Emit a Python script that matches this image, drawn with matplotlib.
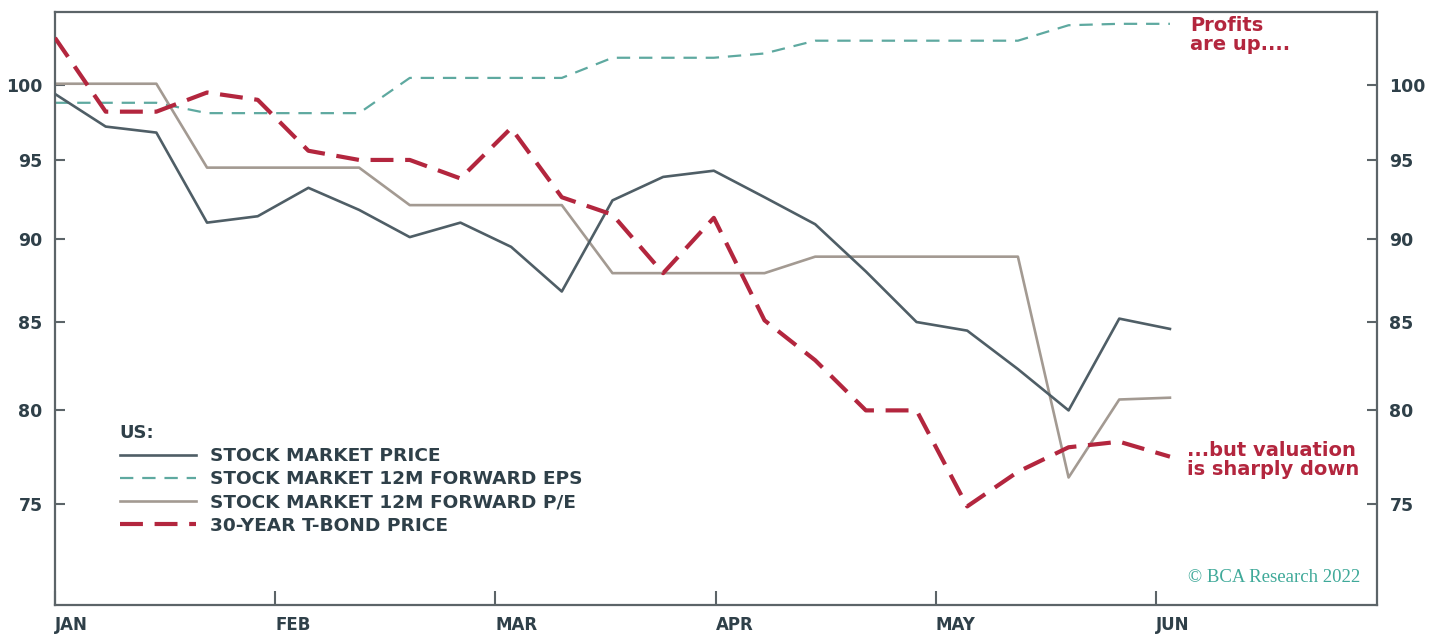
import matplotlib
matplotlib.use("Agg")
import matplotlib.pyplot as plt
from matplotlib.ticker import NullLocator

# weekly observations, Jan -> early Jun (index 100 = start)
weeks = list(range(23))
price = [99.4, 97.2, 96.8, 91.0, 91.4, 93.2, 91.8, 90.1, 91.0, 89.5, 86.8, 92.4,
         93.9, 94.3, 92.6, 90.9, 88.0, 85.0, 84.5, 82.3, 80.0, 85.2, 84.6]
eps = [98.8, 98.8, 98.8, 98.1, 98.1, 98.1, 98.1, 100.5, 100.5, 100.5, 100.5, 101.9,
       101.9, 101.9, 102.2, 103.1, 103.1, 103.1, 103.1, 103.1, 104.2, 104.3, 104.3]
pe = [100.1, 100.1, 100.1, 94.5, 94.5, 94.5, 94.5, 92.1, 92.1, 92.1, 92.1, 87.9,
      87.9, 87.9, 87.9, 88.9, 88.9, 88.9, 88.9, 88.9, 76.4, 80.6, 80.7]
tbond = [103.3, 98.2, 98.2, 99.5, 99.0, 95.6, 95.0, 95.0, 93.8, 97.1, 92.6, 91.5,
         87.9, 91.3, 85.1, 82.8, 80.0, 80.0, 74.9, 76.7, 78.0, 78.3, 77.5]
months = ["JAN", "FEB", "MAR", "APR", "MAY", "JUN"]
yticks = [75, 80, 85, 90, 95, 100]

labels = ["STOCK MARKET PRICE", "STOCK MARKET 12M FORWARD EPS",
          "STOCK MARKET 12M FORWARD P/E", "30-YEAR T-BOND PRICE"]

c_price = "#4f5e66"
c_eps = "#5ea9a0"
c_pe = "#a39a92"
c_red = "#b3263e"
c_txt = "#2f4049"
c_spine = "#5c6468"

plt.rcParams["font.family"] = ["DejaVu Sans"]

fig = plt.figure(figsize=(14.4, 6.39), dpi=100)
ax = fig.add_axes([55 / 1440, 34 / 639, 1322 / 1440, 593 / 639])

days = [w * 7 for w in weeks]
ax.plot(days, price, color=c_price, lw=1.9, label=labels[0], zorder=3)
ax.plot(days, eps, color=c_eps, lw=1.6, dashes=(6, 4), label=labels[1], zorder=2)
ax.plot(days, pe, color=c_pe, lw=1.9, label=labels[2], zorder=2)
ax.plot(days, tbond, color=c_red, lw=3.0, dashes=(5.5, 2.8), label=labels[3], zorder=4)

ax.set_yscale("log")
ax.set_ylim(70, 105.15)
ax.set_yticks(yticks, labels=[str(v) for v in yticks])
ax.yaxis.set_minor_locator(NullLocator())

month_len = 365 / 12
ax.set_xlim(0, 182.6)
ax.set_xticks([m * month_len for m in range(len(months))], labels=months)
for t in ax.get_xticklabels():
    t.set_horizontalalignment("left")

ax.tick_params(axis="y", direction="in", length=7, width=1.5, color=c_spine,
               labelsize=12.5, labelcolor=c_txt, pad=9, left=True, right=True,
               labelleft=True, labelright=True)
ax.tick_params(axis="x", direction="in", length=10, width=1.5, color=c_spine,
               labelsize=12, labelcolor=c_txt, pad=8)
for t in ax.get_yticklabels() + ax.get_xticklabels():
    t.set_fontweight("bold")

for s in ax.spines.values():
    s.set_color(c_spine)
    s.set_linewidth(1.6)

leg = ax.legend(loc="upper left", bbox_to_anchor=(0.049, 0.305), frameon=False,
                title="US:", alignment="left", handlelength=4.1, handletextpad=0.8,
                labelspacing=0.28, borderpad=0, borderaxespad=0,
                prop={"size": 13.3, "weight": "bold"},
                title_fontproperties={"size": 13, "weight": "bold"})
leg.get_title().set_color(c_txt)
for t in leg.get_texts():
    t.set_color(c_txt)

ax.text(0.8585, 0.993, "Profits\nare up....", transform=ax.transAxes, ha="left",
        va="top", color=c_red, fontsize=14, fontweight="bold", linespacing=1.0)
ax.text(0.856, 0.245, "...but valuation\nis sharply down", transform=ax.transAxes,
        ha="left", va="center", color=c_red, fontsize=14, fontweight="bold",
        linespacing=1.0)
ax.text(0.987, 0.047, "\u00a9 BCA Research 2022", transform=ax.transAxes, ha="right",
        va="center", color="#3fa999", fontsize=13.5, family="Liberation Serif")

fig.savefig("out.png", dpi=100)
